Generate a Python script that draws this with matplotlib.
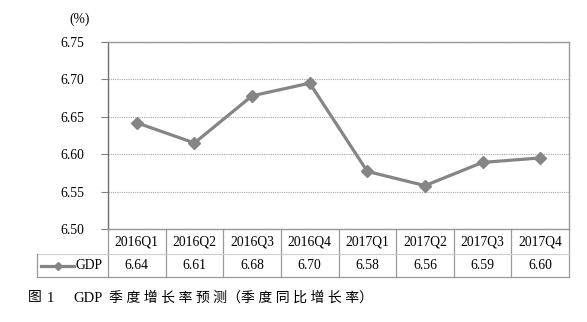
import matplotlib.pyplot as plt
from matplotlib.transforms import blended_transform_factory
from matplotlib.lines import Line2D

plt.rcParams['font.family'] = ['Liberation Serif', 'Noto Sans CJK SC']

quarters = ['2016Q1', '2016Q2', '2016Q3', '2016Q4', '2017Q1', '2017Q2', '2017Q3', '2017Q4']
gdp = [6.642, 6.615, 6.678, 6.695, 6.577, 6.558, 6.589, 6.595]
gdp_labels = ['6.64', '6.61', '6.68', '6.70', '6.58', '6.56', '6.59', '6.60']
yticks = [6.50, 6.55, 6.60, 6.65, 6.70, 6.75]

W, H = 587, 322
fig = plt.figure(figsize=(W / 100, H / 100), dpi=100)
ax = fig.add_axes([108 / W, 1 - 229 / H, 461 / W, 187 / H])

line_c = '#858585'
ax.plot(range(len(gdp)), gdp, color=line_c, lw=2.3, marker='D', ms=6.5,
        markeredgecolor=line_c, markerfacecolor=line_c, zorder=3)

ax.set_xlim(-0.5, len(quarters) - 0.5)
ax.set_ylim(6.50, 6.75)
ax.set_yticks(yticks)
ax.set_yticklabels([f'{v:.2f}' for v in yticks], fontsize=9.8)
ax.set_xticks([])
ax.yaxis.grid(True, ls=(0, (1, 1)), color='#a8a8a8', lw=0.8)
ax.tick_params(axis='y', length=5, color='#808080', pad=12)
for s in ax.spines.values():
    s.set_color('#999999')
    s.set_linewidth(1.0)
ax.spines['left'].set_color('#707070')

fig.text(80 / W, 1 - 19 / H, '(%)', fontsize=9.8, ha='center', va='center')

# data table under the axes
tr = blended_transform_factory(ax.transData, ax.transAxes)
r1 = -25 / 187
r2 = -48 / 187
tc = '#999999'
for i, (q, lab) in enumerate(zip(quarters, gdp_labels)):
    ax.text(i, r1 / 2, q, transform=tr, ha='center', va='center', fontsize=9.8)
    ax.text(i, (r1 + r2) / 2, lab, transform=tr, ha='center', va='center', fontsize=9.8)
for i in range(len(quarters) + 1):
    ax.plot([i - 0.5, i - 0.5], [0, r2], transform=tr, color=tc, lw=0.9, clip_on=False)

x0 = 37 / W
x1 = 569 / W
fy1 = 1 - 254 / H
fy2 = 1 - 277 / H
fig.add_artist(Line2D([x0, x1], [fy1, fy1], color='#d0d0d0', lw=0.9))
fig.add_artist(Line2D([x0, x1], [fy2, fy2], color=tc, lw=0.9))
fig.add_artist(Line2D([x0, x0], [fy1, fy2], color=tc, lw=0.9))

# legend key in table
ym = (fy1 + fy2) / 2
fig.add_artist(Line2D([41 / W, 74 / W], [ym, ym], color=line_c, lw=2.3))
fig.add_artist(Line2D([58 / W], [ym], color=line_c, marker='D', ms=4.5))
fig.text(76 / W, ym, 'GDP', fontsize=9.8, ha='left', va='center')

# caption
cy = 1 - 298 / H
fig.text(28 / W, cy, '图', fontsize=10, ha='left', va='center')
fig.text(47 / W, cy, '1', fontsize=10.5, ha='left', va='center')
fig.text(73 / W, cy, 'GDP', fontsize=10.5, ha='left', va='center')
fig.text(109 / W, cy, '季 度 增 长 率 预 测（季 度 同 比 增 长 率）', fontsize=10,
         ha='left', va='center')

fig.savefig('out.png', dpi=100, facecolor='white')
